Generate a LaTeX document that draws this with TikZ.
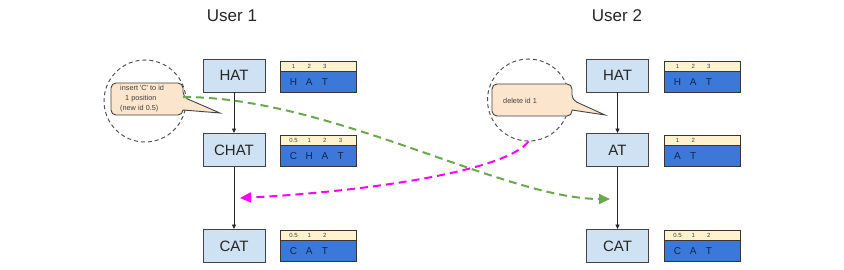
\documentclass[tikz,border=0pt]{standalone}
\usepackage{fontspec}
\setmainfont{Liberation Sans}
\usetikzlibrary{arrows.meta}
\definecolor{boxfill}{HTML}{CFE2F3}
\definecolor{boxline}{HTML}{434343}
\definecolor{hdrfill}{HTML}{FFF2CC}
\definecolor{bodyfill}{HTML}{3C78D8}
\definecolor{tabtext}{HTML}{0F2550}
\definecolor{calfill}{HTML}{FCE5CD}
\definecolor{caltext}{HTML}{404040}
\definecolor{ringcol}{HTML}{555555}
\definecolor{greenarr}{HTML}{6AA84F}
\definecolor{magarr}{HTML}{FF00FF}
\tikzset{
  verbox/.style={draw=boxline, line width=0.9pt, fill=boxfill, minimum width=62pt, minimum height=33pt, inner sep=0pt, font=\fontsize{15}{18}\selectfont, text=black!85},
  hdrrow/.style={draw=boxline!80!black, line width=0.8pt, fill=hdrfill, minimum width=76pt, minimum height=10pt, inner sep=0pt, anchor=north west},
  bodyrow/.style={draw=boxline!80!black, line width=0.8pt, fill=bodyfill, minimum width=76pt, minimum height=21pt, inner sep=0pt, anchor=north west},
  hnum/.style={font=\fontsize{6}{7}\selectfont, text=black!75, inner sep=0pt},
  letter/.style={font=\fontsize{10}{12}\selectfont, text=tabtext, inner sep=0pt},
  titletext/.style={font=\fontsize{17}{20}\selectfont, text=black!85, inner sep=0pt},
  flow/.style={draw=black!85, line width=0.8pt, -{Triangle[length=4.5pt,width=4pt]}},
  ringc/.style={draw=ringcol, line width=1pt, dash pattern=on 4pt off 3pt, circle, minimum size=82pt, inner sep=0pt},
  callout/.style={draw=boxline, line width=0.9pt, fill=calfill},
  ctext/.style={font=\fontsize{7.3}{10}\selectfont, text=caltext, inner sep=0pt, align=left, anchor=west},
  bigarrow/.style={line width=2pt, dash pattern=on 8pt off 5pt, -{Triangle[length=11pt,width=10pt]}},
}
\newcommand\mktable[4]{%
  \node[hdrrow] (#1h) at (#2,#3) {};
  \node[bodyrow] (#1b) at (#2,#3+10) {};
  \foreach \n/\c [count=\i] in {#4} {
    \node[hnum] (#1n\i) at ({#2+13.5+15.7*(\i-1)},{#3+5.2}) {\n};
    \node[letter] (#1c\i) at ({#2+13.5+15.7*(\i-1)},{#3+21}) {\c};
  }%
}
\begin{document}
\begin{tikzpicture}[x=1pt,y=-1pt]
\useasboundingbox (0,0) rectangle (844,270);
% titles
\node[titletext] (t1) at (232,16) {User 1};
\node[titletext] (t2) at (617,16) {User 2};
% left column
\node[verbox] (l1) at (234,75.5) {HAT};
\node[verbox] (l2) at (234,150) {CHAT};
\node[verbox] (l3) at (234,246) {CAT};
\draw[flow] (l1) -- (l2);
\draw[flow] (l2) -- (l3);
\mktable{lt1}{280}{61}{1/H,2/A,3/T}
\mktable{lt2}{280}{135}{0.5/C,1/H,2/A,3/T}
\mktable{lt3}{280}{230}{0.5/C,1/A,2/T}
% right column
\node[verbox] (r1) at (617.5,75.5) {HAT};
\node[verbox] (r2) at (617.5,150) {AT};
\node[verbox] (r3) at (617.5,246) {CAT};
\draw[flow] (r1) -- (r2);
\draw[flow] (r2) -- (r3);
\mktable{rt1}{664}{61}{1/H,2/A,3/T}
\mktable{rt2}{664}{135}{1/A,2/T}
\mktable{rt3}{664}{230}{0.5/C,1/A,2/T}
% left callout
\node[ringc] (lring) at (145,101) {};
\filldraw[callout] (147,83) [rounded corners=5pt] -- (183,83) -- (183,97) [sharp corners] -- (220,113) -- (183,110) [rounded corners=5pt] -- (183,115) -- (111,115) -- (111,83) -- cycle;
\node[ctext] (lct) at (120,99) {insert \textquotesingle C\textquotesingle\ to id\\\hspace*{5pt}1 position\\(new id 0.5)};
% right callout
\node[ringc] (rring) at (528.5,100) {};
\filldraw[callout] (530,84) [rounded corners=5pt] -- (572,84) -- (572,100) [sharp corners] -- (605,115) -- (572,110) [rounded corners=5pt] -- (572,116) -- (492,116) -- (492,84) -- cycle;
\node[ctext] (rct) at (503,101) {delete id 1};
% long arrows
\coordinate (gstart) at (183,97);
\coordinate (gend) at (610,199);
\coordinate (mend) at (240,198);
\draw[bigarrow, greenarr] (gstart) .. controls (330,97) and (505,199) .. (gend);
\draw[bigarrow, magarr] (rring.south) .. controls (505,172) and (360,192) .. (mend);
\end{tikzpicture}
\end{document}
